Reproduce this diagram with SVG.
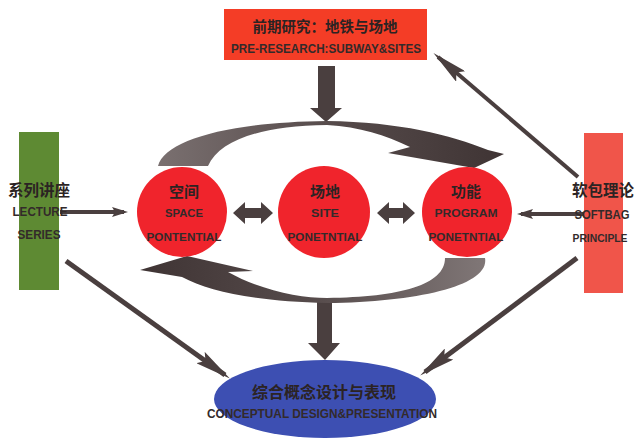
<svg xmlns="http://www.w3.org/2000/svg" width="635" height="446" viewBox="0 0 635 446">
<defs>
<style>
.zh{font-family:"Noto Sans CJK SC","Liberation Sans",sans-serif;font-weight:bold;fill:#2b2323;text-anchor:middle}
.en{font-family:"Liberation Sans",Arial,sans-serif;font-weight:bold;fill:#332a2a;text-anchor:middle}
.conn{stroke:#4a3f3f;fill:none}
.solid{fill:#4a3f3f}
</style>
<marker id="headL" viewBox="0 0 36 14" markerUnits="userSpaceOnUse" markerWidth="36" markerHeight="14" refX="30" refY="7" orient="auto">
<path d="M0,0 L36,7 L0,14 L6,7 Z" fill="#4a3f3f"/>
</marker>
<marker id="headS" viewBox="0 0 16 10" markerUnits="userSpaceOnUse" markerWidth="16" markerHeight="10" refX="12" refY="5" orient="auto">
<path d="M0,0 L16,5 L0,10 L3,5 Z" fill="#4a3f3f"/>
</marker>
<linearGradient id="gTop" x1="0" y1="0" x2="1" y2="0">
<stop offset="0" stop-color="#7a7070"/>
<stop offset="0.5" stop-color="#564b4b"/>
<stop offset="1" stop-color="#3f3434"/>
</linearGradient>
<linearGradient id="gBot" x1="1" y1="0" x2="0" y2="0">
<stop offset="0" stop-color="#807777"/>
<stop offset="0.5" stop-color="#564b4b"/>
<stop offset="1" stop-color="#3f3434"/>
</linearGradient>
</defs>
<rect width="635" height="446" fill="#ffffff"/>

<g id="connectors">
<polygon class="solid" points="318,66 335,66 335,108 342,108 326,122 310,108 318,108"/>
<polygon class="solid" points="317,300 332,300 332,343 340,343 325,360 308,343 317,343"/>
<path fill="url(#gTop)" d="M158,166 C165,140 230,122 327,121 C400,122 450,135 488,150 L504,154 L474,168 L388,153 L410,147 C385,135 360,127 327,125 C260,126 220,140 208,166 Z"/>
<path fill="url(#gBot)" d="M485,258 C490,285 420,302 327,303 C260,302 210,292 182,277 L140,270 L187,256 L253,271 L228,272 C260,290 300,298 327,298 C400,297 445,285 445,258 Z"/>
<polygon class="solid" points="233,213 245,202 245,208 261,208 261,202 273,213 261,224 261,218 245,218 245,224"/>
<polygon class="solid" points="377,213 389,202 389,208 403,208 403,202 415,213 403,224 403,218 389,218 389,224"/>
<line class="conn" x1="60" y1="212" x2="124" y2="212" stroke-width="4" marker-end="url(#headS)"/>
<line class="conn" x1="586" y1="214" x2="521" y2="214" stroke-width="4" marker-end="url(#headS)"/>
<line class="conn" x1="578" y1="177" x2="438" y2="57" stroke-width="4" marker-end="url(#headL)"/>
<line class="conn" x1="66" y1="261" x2="225" y2="375" stroke-width="5" marker-end="url(#headL)"/>
<line class="conn" x1="577" y1="258" x2="425" y2="372" stroke-width="5" marker-end="url(#headL)"/>
</g>

<g id="pre-research">
<rect x="224" y="9" width="203" height="51" fill="#f43d26"/>
<text class="zh" x="325" y="32" font-size="14.5">前期研究：地铁与场地</text>
<text class="en" x="326" y="53" font-size="12" textLength="190" lengthAdjust="spacingAndGlyphs">PRE-RESEARCH:SUBWAY&amp;SITES</text>
</g>

<g id="lecture-series">
<rect x="19" y="132" width="40" height="158" fill="#5e8a33"/>
<text class="zh" x="39" y="196" font-size="15.5">系列讲座</text>
<text class="en" x="40" y="216" font-size="12" textLength="55" lengthAdjust="spacingAndGlyphs">LECTURE</text>
<text class="en" x="39" y="239" font-size="12" textLength="43" lengthAdjust="spacingAndGlyphs">SERIES</text>
</g>

<g id="softbag">
<rect x="584" y="133" width="39" height="160" fill="#f0554a"/>
<text class="zh" x="603" y="196" font-size="15.5">软包理论</text>
<text class="en" x="602" y="219" font-size="12" textLength="55" lengthAdjust="spacingAndGlyphs">SOFTBAG</text>
<text class="en" x="600" y="242" font-size="11.5" textLength="55" lengthAdjust="spacingAndGlyphs">PRINCIPLE</text>
</g>

<g id="space">
<circle cx="182" cy="212" r="45" fill="#f0242c"/>
<text class="zh" x="184" y="197" font-size="15">空间</text>
<text class="en" x="184" y="217" font-size="11.5" textLength="38" lengthAdjust="spacingAndGlyphs">SPACE</text>
<text class="en" x="184" y="241" font-size="11.5" textLength="75" lengthAdjust="spacingAndGlyphs">PONTENTIAL</text>
</g>

<g id="site">
<circle cx="324" cy="212" r="46" fill="#f0242c"/>
<text class="zh" x="325" y="197" font-size="15">场地</text>
<text class="en" x="325" y="217" font-size="11.5" textLength="28" lengthAdjust="spacingAndGlyphs">SITE</text>
<text class="en" x="325" y="241" font-size="11.5" textLength="75" lengthAdjust="spacingAndGlyphs">PONETNTIAL</text>
</g>

<g id="program">
<circle cx="467" cy="212" r="45" fill="#f0242c"/>
<text class="zh" x="466" y="197" font-size="15">功能</text>
<text class="en" x="466" y="217" font-size="11.5" textLength="63" lengthAdjust="spacingAndGlyphs">PROGRAM</text>
<text class="en" x="466" y="241" font-size="11.5" textLength="75" lengthAdjust="spacingAndGlyphs">PONETNTIAL</text>
</g>

<g id="conceptual">
<ellipse cx="325" cy="399" rx="111" ry="39" fill="#3d4fb2"/>
<text class="zh" x="324" y="398" font-size="16">综合概念设计与表现</text>
<text class="en" x="322" y="418" font-size="12" textLength="230" lengthAdjust="spacingAndGlyphs">CONCEPTUAL DESIGN&amp;PRESENTATION</text>
</g>
</svg>
